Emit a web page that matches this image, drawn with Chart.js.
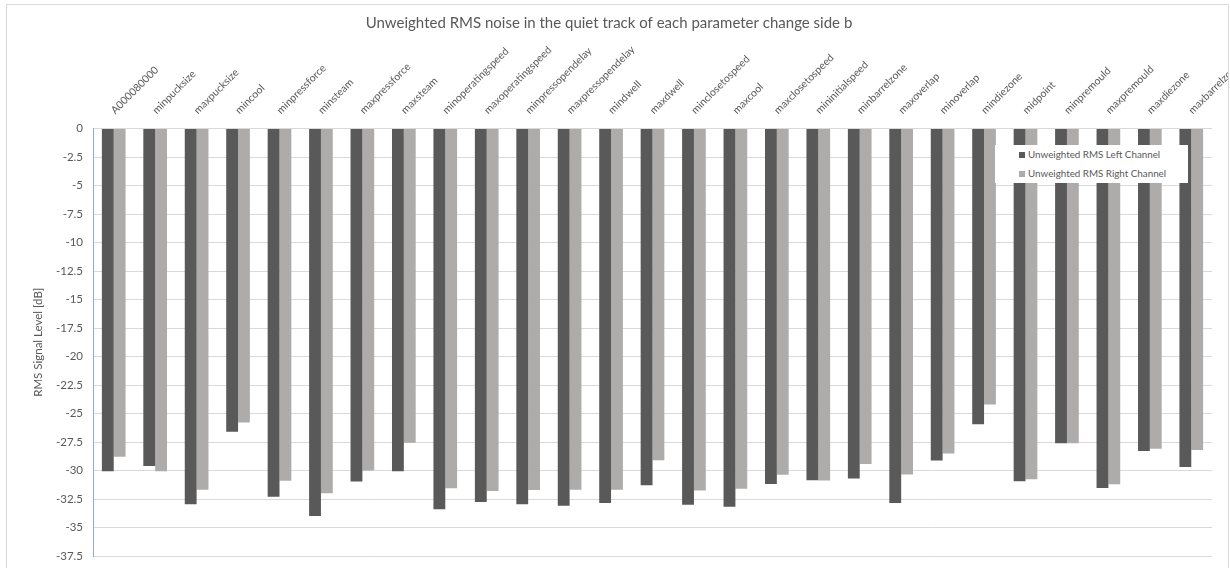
<!DOCTYPE html>
<html>
<head>
<meta charset="utf-8">
<script src="https://cdn.jsdelivr.net/npm/chart.js@4"></script>
<style>
  html, body { margin: 0; padding: 0; background: #ffffff; }
  body { width: 1230px; height: 568px; position: relative; overflow: hidden; font-family: Lato, "Open Sans", sans-serif; }
  #clip { position: absolute; left: 0; top: 0; width: 1228px; height: 568px; overflow: hidden; }
  #frame { position: absolute; left: 6px; top: 4px; width: 1221px; height: 600px; border: 1px solid #d9d9d9; pointer-events: none; }
  #legend { position: absolute; left: 995px; top: 145px; width: 193px; height: 38px; background: #ffffff; }
  #legend .item { position: absolute; left: 24px; height: 14px; line-height: 14px; font-size: 9.8px; color: #595959; white-space: nowrap; }
  #legend .swatch { display: inline-block; width: 6px; height: 6px; margin-right: 3px; vertical-align: 0px; }
</style>
</head>
<body>
<div id="clip"><canvas id="chart" width="1230" height="568"></canvas></div>
<div id="frame"></div>
<div id="legend"></div>
<script>
// Parameter-change runs, in the order they were measured
const categories = [
  'A000080000', 'minpucksize', 'maxpucksize', 'mincool', 'minpressforce', 'minsteam',
  'maxpressforce', 'maxsteam', 'minoperatingspeed', 'maxoperatingspeed', 'minpressopendelay',
  'maxpressopendelay', 'mindwell', 'maxdwell', 'minclosetospeed', 'maxcool', 'maxclosetospeed',
  'mininitialspeed', 'minbarrelzone', 'maxoverlap', 'minoverlap', 'mindiezone', 'midpoint',
  'minpremould', 'maxpremould', 'maxdiezone', 'maxbarrelzone'
];

// Unweighted RMS level of the quiet track, dB
const leftChannel = [
  -30.06, -29.6, -32.97, -26.6, -32.3, -34.0, -30.97, -30.06, -33.4, -32.76, -32.97,
  -33.09, -32.85, -31.3, -33.0, -33.18, -31.18, -30.85, -30.7, -32.85, -29.12, -25.94,
  -30.94, -27.6, -31.53, -28.3, -29.7
];
const rightChannel = [
  -28.8, -30.06, -31.68, -25.8, -30.9, -32.0, -30.0, -27.56, -31.56, -31.8, -31.7,
  -31.68, -31.68, -29.1, -31.76, -31.6, -30.38, -30.88, -29.44, -30.35, -28.5, -24.2,
  -30.76, -27.6, -31.2, -28.1, -28.2
];

// Value-axis range and step
const yMin = -37.5;
const yMax = 0;
const yStep = 2.5;

const seriesNames = ['Unweighted RMS Left Channel', 'Unweighted RMS Right Channel'];
const seriesColors = ['#595959', '#aeabab'];

const FONT = 'Lato, "Open Sans", sans-serif';
const TEXT = '#595959';

const chart = new Chart(document.getElementById('chart'), {
  type: 'bar',
  data: {
    labels: categories,
    datasets: [
      { label: seriesNames[0], data: leftChannel, backgroundColor: seriesColors[0] },
      { label: seriesNames[1], data: rightChannel, backgroundColor: seriesColors[1] }
    ]
  },
  options: {
    responsive: false,
    animation: false,
    devicePixelRatio: 1,
    datasets: { bar: { categoryPercentage: 1 / 1.75, barPercentage: 1, borderWidth: 0 } },
    layout: { padding: { left: 6, right: 18, top: 0, bottom: 12 } },
    plugins: {
      legend: { display: false },
      tooltip: { enabled: false },
      title: {
        display: true,
        text: 'Unweighted RMS noise in the quiet track of each parameter change side b',
        color: TEXT,
        font: { family: FONT, size: 15, weight: 'normal' },
        padding: { top: 14, bottom: 6 }
      }
    },
    scales: {
      x: {
        position: 'top',
        grid: { display: false },
        border: { display: false },
        ticks: {
          autoSkip: false,
          minRotation: 45,
          maxRotation: 45,
          padding: 4,
          labelOffset: 8,
          color: TEXT,
          font: { family: FONT, size: 10.5 }
        },
        afterFit(scale) {
          scale.height = 90.5;
          scale.paddingLeft = 0;
          scale.paddingRight = 0;
        }
      },
      y: {
        min: yMin,
        max: yMax,
        grid: { color: '#d9d9d9', lineWidth: 1, drawTicks: false },
        border: { color: '#8faadc', width: 1 },
        ticks: {
          stepSize: yStep,
          padding: 10,
          color: TEXT,
          font: { family: FONT, size: 11.5 },
          callback: (v) => String(Math.round(v * 10) / 10)
        },
        title: {
          display: true,
          text: 'RMS Signal Level [dB]',
          color: TEXT,
          font: { family: FONT, size: 11.5 },
          padding: { top: 25, bottom: 0 }
        },
        afterFit(scale) {
          scale.width = 87;
          scale.paddingTop = 0;
          scale.paddingBottom = 0;
        }
      }
    }
  }
});

// Legend box built from the chart's datasets
const legend = document.getElementById('legend');
chart.data.datasets.forEach((ds, i) => {
  const row = document.createElement('div');
  row.className = 'item';
  row.style.top = (2 + i * 19) + 'px';
  const sw = document.createElement('span');
  sw.className = 'swatch';
  sw.style.background = ds.backgroundColor;
  row.appendChild(sw);
  row.appendChild(document.createTextNode(ds.label));
  legend.appendChild(row);
});
</script>
</body>
</html>
